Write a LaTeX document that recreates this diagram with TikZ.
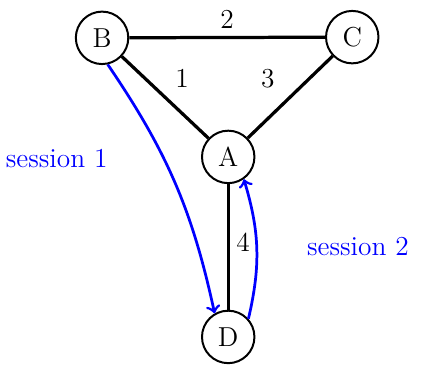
\documentclass[tikz,border=0pt]{standalone}
\usepackage{tikz}
\usetikzlibrary{positioning}

\begin{document}
\begin{tikzpicture}[>=to, font=\fontsize{11}{13}\selectfont,
      vertex/.style={draw, circle, line width=0.8pt, minimum size=0.74cm, inner sep=0pt},
      edge/.style={line width=1.3pt},
      wlbl/.style={inner sep=1pt},
      sess/.style={->, draw=blue, line width=1.1pt},
      slbl/.style={text=blue}]
    \useasboundingbox (0,0) rectangle (5.94,5.164);
    \node[vertex] (B) at (1.44,4.63) {B};
    \node[vertex] (C) at (4.97,4.64) {C};
    \node[vertex] (A) at (3.22,2.95) {A};
    \node[vertex] (D) at (3.22,0.41) {D};

    \draw[edge] (B) -- node[wlbl, above=2pt]{2} (C);
    \draw[edge] (B) -- (A);
    \draw[edge] (C) -- (A);
    \draw[edge] (A) -- (D);
    \node[wlbl] (w1) at (2.57,4.06) {1};
    \node[wlbl] (w3) at (3.78,4.06) {3};
    \node[wlbl] (w4) at (3.43,1.74) {4};

    \draw[sess] (B.-78) to[bend left=11] (D.120);
    \draw[sess] (D.42) to[bend right=15] (A.-55);
    \node[slbl] (s1) at (0.80,2.93) {session 1};
    \node[slbl] (s2) at (5.05,1.68) {session 2};
\end{tikzpicture}
\end{document}
